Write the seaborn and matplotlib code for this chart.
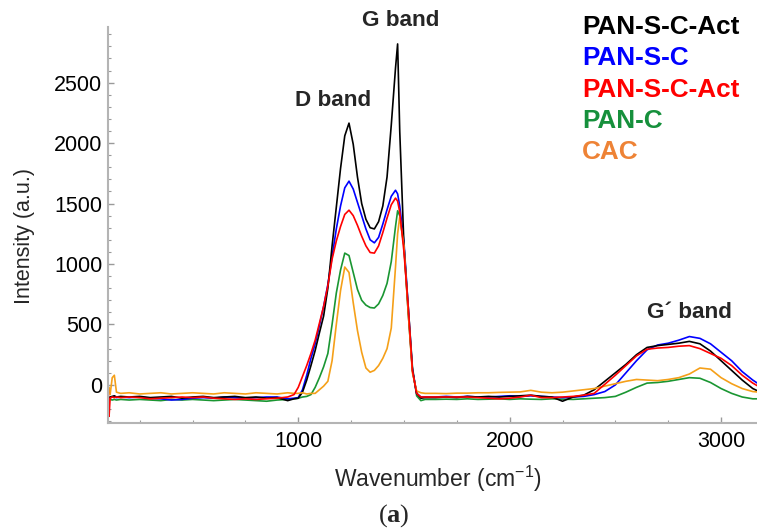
import matplotlib
matplotlib.use("Agg")
import matplotlib.pyplot as plt
from matplotlib.ticker import MultipleLocator
import seaborn as sns

# Raman spectra
wavenumber = [
    100, 105, 110, 120, 130, 140, 160, 200, 250, 300, 350, 400, 450, 500, 550, 600,
    650, 700, 750, 800, 850, 900, 950, 980,
    1000, 1020, 1040, 1060, 1080, 1100, 1120, 1140, 1160, 1180, 1200, 1220, 1240,
    1260, 1280, 1300, 1320, 1340, 1360, 1380, 1400, 1420, 1440, 1460, 1470, 1480,
    1500, 1520, 1540, 1560, 1580, 1600,
    1650, 1700, 1750, 1800, 1850, 1900, 1950, 2000, 2050, 2100, 2150, 2200, 2250,
    2300, 2350, 2400, 2450, 2500, 2550, 2600, 2650, 2700, 2750, 2800, 2850, 2900,
    2950, 3000, 3050, 3100, 3150, 3180,
]

pan_s_c_act_black = [
    -110, -105, -100, -95, -90, -100, -95, -100, -95, -105, -100, -95, -110, -100, -95, -105,
    -100, -95, -105, -100, -110, -105, -130, -115,
    -110, -60, 40, 160, 285, 430, 570, 800, 1150, 1470, 1790, 2060, 2165,
    1990, 1720, 1500, 1370, 1300, 1290, 1350, 1480, 1720, 2150, 2620, 2820, 2100,
    1150, 600, 120, -70, -110, -105,
    -105, -100, -105, -95, -100, -95, -100, -95, -90, -85, -95, -100, -135,
    -100, -85, -40, 30, 100, 170, 250, 310, 325, 335, 345, 360, 340,
    280, 200, 120, 40, -30, -55,
]

pan_s_c = [
    -115, -110, -105, -100, -95, -105, -100, -105, -100, -110, -115, -125, -120, -110, -105, -110,
    -100, -105, -110, -105, -100, -100, -115, -110,
    -105, -40, 80, 220, 340, 490, 650, 830, 1060, 1290, 1480, 1630, 1685,
    1620, 1510, 1400, 1290, 1200, 1175, 1220, 1330, 1450, 1560, 1610, 1580, 1480,
    1180, 650, 130, -70, -100, -100,
    -100, -95, -100, -95, -100, -100, -95, -90, -95, -90, -95, -100, -105,
    -100, -95, -80, -55, 0, 100, 200, 290, 330, 345, 370, 400, 385,
    340, 270, 200, 110, 40, 5,
]

pan_s_c_act_red = [
    20, -260, -110, -100, -105, -100, -105, -100, -105, -115, -110, -105, -100, -105, -100, -110,
    -115, -120, -115, -120, -115, -110, -100, -80,
    -20, 70, 160, 260, 370, 510, 650, 820, 1040, 1190, 1310, 1410, 1445,
    1400, 1320, 1230, 1150, 1095, 1090, 1150, 1260, 1380, 1490, 1545, 1520, 1430,
    1100, 650, 120, -70, -100, -100,
    -100, -100, -100, -100, -105, -110, -115, -110, -100, -85, -105, -105, -100,
    -95, -85, -70, 5, 80, 160, 240, 295, 305, 310, 320, 325, 300,
    260, 220, 160, 80, 15, -15,
]

pan_c = [
    -130, -125, -120, -125, -120, -125, -120, -125, -120, -125, -130, -120, -125, -120, -125, -130,
    -125, -120, -125, -130, -135, -125, -120, -115,
    -110, -100, -95, -80, -20, 60, 150, 260, 500, 760, 950, 1090, 1070,
    930, 790, 700, 660, 640, 636, 670, 740, 840, 1020, 1310, 1440, 1400,
    1150, 650, 150, -90, -130, -120,
    -120, -118, -120, -115, -120, -118, -115, -120, -115, -118, -120, -115, -118,
    -120, -115, -110, -105, -95, -60, -20, 15, 20, 30, 45, 60, 55,
    20, -30, -70, -100, -115, -115,
]

cac = [
    -60, -20, -80, 60, 80, -60, -70, -65, -75, -70, -65, -75, -70, -65, -70, -75,
    -65, -70, -75, -65, -70, -75, -65, -70,
    -70, -65, -75, -70, -70, -40, -10, 30, 200, 500, 780, 975, 930,
    680, 450, 270, 140, 105, 120, 160, 220, 300, 470, 975, 1250, 1390,
    1150, 600, 100, -50, -65, -70,
    -70, -72, -68, -68, -65, -65, -62, -60, -58, -45, -60, -65, -60,
    -50, -40, -30, -10, 10, 30, 45, 40, 35, 45, 60, 90, 140,
    130, 60, 10, -30, -55, -60,
]

legend_labels = ["PAN-S-C-Act", "PAN-S-C", "PAN-S-C-Act", "PAN-C", "CAC"]
legend_colors = ["#000000", "#0000ff", "#ff0000", "#16903c", "#ee8336"]

sns.set_style("ticks")
plt.rcParams["font.family"] = ["Liberation Sans", "DejaVu Sans"]
plt.rcParams["mathtext.fontset"] = "custom"
plt.rcParams["mathtext.rm"] = "Liberation Sans"
plt.rcParams["mathtext.bf"] = "Liberation Serif:bold"
plt.rcParams["mathtext.default"] = "regular"

fig = plt.figure(figsize=(7.57, 5.31), dpi=100)
ax = fig.add_axes([108 / 757, 1 - 423 / 531, 649 / 757, 396 / 531])

# drawing order: red ends up on top like in the original
series = [
    (pan_c, "#1a9632"),
    (pan_s_c, "#0000ff"),
    (pan_s_c_act_black, "#000000"),
    (cac, "#f5a019"),
    (pan_s_c_act_red, "#ff0000"),
]
for values, col in series:
    sns.lineplot(x=wavenumber, y=values, color=col, linewidth=1.2,
                 estimator=None, sort=False, ax=ax)

ax.set_xlim(100, 3170)
ax.set_ylim(-315, 2960)
ax.xaxis.set_major_locator(MultipleLocator(1000))
ax.xaxis.set_minor_locator(MultipleLocator(250))
ax.yaxis.set_major_locator(MultipleLocator(500))
ax.yaxis.set_minor_locator(MultipleLocator(100))

for side in ["top", "right"]:
    ax.spines[side].set_visible(False)
for side in ["left", "bottom"]:
    ax.spines[side].set_color("#b4b4b4")
    ax.spines[side].set_linewidth(1.5)

ax.tick_params(which="both", direction="in", color="#9a9a9a", labelsize=15.5,
               labelcolor="black")
ax.tick_params(which="major", length=4, width=1)
ax.tick_params(which="minor", length=2, width=0.8)
ax.tick_params(axis="y", pad=4)
ax.tick_params(axis="x", pad=6)

ax.set_xlabel("Wavenumber (cm$^{-1}$)", fontsize=16.5, va="center")
ax.set_ylabel("Intensity (a.u.)", fontsize=15.5, va="center")
ax.xaxis.set_label_coords((438 - 108) / 649, (423 - 479) / 396)
ax.yaxis.set_label_coords((25 - 108) / 649, (423 - 236) / 396)

# band annotations
def px_text(x, y, s, **kw):
    fig.text(x / 757, 1 - y / 531, s, **kw)

px_text(401, 20, "G band", fontsize=16.2, fontweight="bold", ha="center", va="center")
px_text(333, 100, "D band", fontsize=16.2, fontweight="bold", ha="center", va="center")
px_text(689, 312, "G\u00b4 band", fontsize=16.2, fontweight="bold", ha="center", va="center")

# coloured text legend
for i, (lab, col) in enumerate(zip(legend_labels, legend_colors)):
    px_text(582, 27 + 31.3 * i, lab, fontsize=18.8, fontweight="bold", color=col,
            ha="left", va="center")

px_text(394, 516, r"($\mathbf{a}$)", fontsize=19, ha="center", va="center",
        family=["Liberation Serif", "DejaVu Serif"])

fig.savefig("out.png", dpi=100)
